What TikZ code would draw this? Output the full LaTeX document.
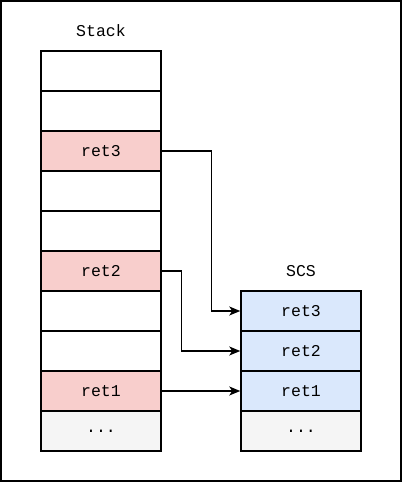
\documentclass[tikz,border=0pt]{standalone}
\usepackage{fontspec}
\newfontfamily\monof{Liberation Mono}
\usetikzlibrary{arrows.meta}
\definecolor{pinkfill}{HTML}{F8CECC}
\definecolor{bluefill}{HTML}{DAE8FC}
\definecolor{grayfill}{HTML}{F5F5F5}
\tikzset{
  cell/.style={draw=black, line width=1.5pt, minimum width=120pt, minimum height=40pt, inner sep=0pt, font=\monof\fontsize{16.5}{19}\selectfont, text=black},
  lbl/.style={font=\monof\fontsize{16.5}{19}\selectfont, inner sep=0pt},
  conn/.style={line width=1.4pt, -{Stealth[length=11pt,width=9pt,inset=3pt]}},
}
\begin{document}
\begin{tikzpicture}[x=1pt,y=-1pt]
\useasboundingbox (0,0) rectangle (402,482);
\draw[line width=1.5pt] (1,1) rectangle (401,481);
\node[lbl] (stacklbl) at (101,31) {Stack};
\node[cell, fill=white] (s1) at (101,71) {};
\node[cell, fill=white] (s2) at (101,111) {};
\node[cell, fill=pinkfill] (s3) at (101,151) {ret3};
\node[cell, fill=white] (s4) at (101,191) {};
\node[cell, fill=white] (s5) at (101,231) {};
\node[cell, fill=pinkfill] (s6) at (101,271) {ret2};
\node[cell, fill=white] (s7) at (101,311) {};
\node[cell, fill=white] (s8) at (101,351) {};
\node[cell, fill=pinkfill] (s9) at (101,391) {ret1};
\node[cell, fill=grayfill] (s10) at (101,431) {...};
\node[lbl] (scslbl) at (301,271) {SCS};
\node[cell, fill=bluefill] (c1) at (301,311) {ret3};
\node[cell, fill=bluefill] (c2) at (301,351) {ret2};
\node[cell, fill=bluefill] (c3) at (301,391) {ret1};
\node[cell, fill=grayfill] (c4) at (301,431) {...};
\draw[conn] (s3.east) -- ++(50,0) |- (c1.west);
\draw[conn] (s6.east) -- ++(20,0) |- (c2.west);
\draw[conn] (s9.east) -- (c3.west);
\end{tikzpicture}
\end{document}
